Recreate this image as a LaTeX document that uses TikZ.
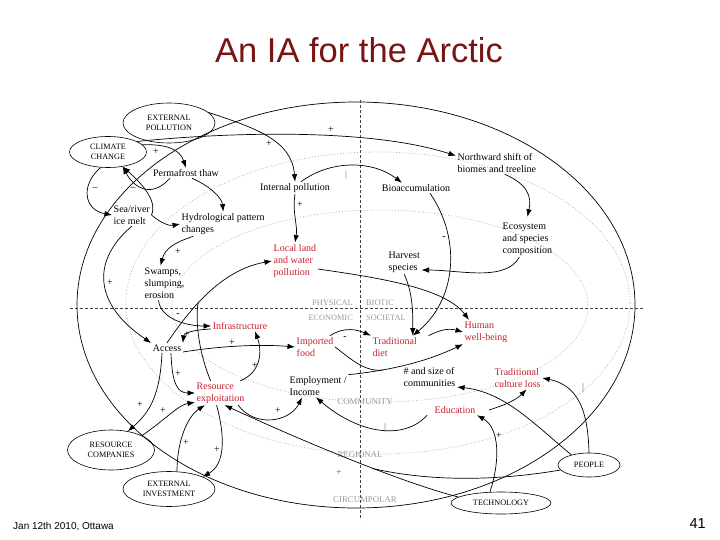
\documentclass[tikz,border=0pt]{standalone}
\usepackage{fontspec}
\setmainfont{Liberation Serif}
\newfontfamily\arialf{Liberation Sans}
\usetikzlibrary{shapes.geometric,arrows.meta}
\definecolor{myred}{RGB}{196,32,45}
\definecolor{titlered}{RGB}{120,20,20}
\begin{document}
\begin{tikzpicture}[x=1pt,y=-1pt,
  lbl/.style={font=\fontsize{10}{12.2}\selectfont, align=left, inner sep=1.5pt},
  rlbl/.style={lbl, text=myred},
  ell/.style={draw, ellipse, inner sep=0pt, line width=0.6pt, font=\fontsize{8.2}{9.5}\selectfont, align=center},
  arr/.style={line width=0.7pt, -{Latex[length=7.5pt,width=5.5pt]}},
  ln/.style={line width=0.7pt},
  sg/.style={font=\fontsize{10}{10}\selectfont, inner sep=0pt},
  quad/.style={font=\fontsize{8.3}{9}\selectfont, text=black!40, inner sep=0pt},
  ring/.style={draw=black!30, dotted, line width=0.8pt}]
\useasboundingbox (0,0) rectangle (720,540);

% title and footer
\node[font=\arialf\fontsize{34.5}{38}\selectfont, text=titlered] (title) at (359,50) {An IA for the Arctic};
\node[font=\arialf\fontsize{10}{11}\selectfont, anchor=base west, inner sep=0pt] (foot) at (13,529) {Jan 12th 2010, Ottawa};
\node[font=\arialf\fontsize{14.5}{16}\selectfont, anchor=base east, inner sep=0pt] (pg) at (706,528) {41};

% rings and axes
\draw[ring] (380,306) ellipse [x radius=208, y radius=96];
\draw[ring] (378,303) ellipse [x radius=252, y radius=151];
\draw[line width=0.7pt] (356,305) ellipse [x radius=279, y radius=203];
\draw[dash pattern=on 3pt off 2pt, line width=0.6pt, black!75] (70,308) -- (643,308);
\draw[dash pattern=on 3pt off 2pt, line width=0.6pt, black!75] (360,100) -- (360,520);

\node[quad, anchor=base east] (qp) at (353,305) {PHYSICAL};
\node[quad, anchor=base west] (qb) at (366,305) {BIOTIC};
\node[quad, anchor=base east] (qe) at (353,320) {ECONOMIC};
\node[quad, anchor=base west] (qs) at (366,320) {SOCIETAL};
\node[quad, font=\fontsize{8.8}{9}\selectfont] (lcom) at (365,402) {COMMUNITY};
\node[quad, font=\fontsize{8.8}{9}\selectfont] (lreg) at (360,455) {REGIONAL};
\node[quad, font=\fontsize{8.8}{9}\selectfont] (lcir) at (365,500) {CIRCUMPOLAR};

% ellipse nodes
\node[ell, minimum width=92pt, minimum height=40pt] (ep) at (169,123) {EXTERNAL\\POLLUTION};
\node[ell, minimum width=77pt, minimum height=31pt] (cc) at (108,152) {CLIMATE\\CHANGE};
\node[ell, minimum width=87pt, minimum height=40pt] (rc) at (111,450) {RESOURCE\\COMPANIES};
\node[ell, minimum width=92pt, minimum height=35pt] (ei) at (169,489) {EXTERNAL\\INVESTMENT};
\node[ell, minimum width=62pt, minimum height=24pt] (pe) at (589,465) {PEOPLE};
\node[ell, minimum width=100pt, minimum height=22pt] (te) at (501,503) {TECHNOLOGY};

% black labels
\node[lbl] (pt) at (186,173) {Permafrost thaw};
\node[lbl] (ip) at (295,188) {Internal pollution};
\node[lbl] (bio) at (416,188) {Bioaccumulation};
\node[lbl, anchor=west] (ns) at (456,163) {Northward shift of\\biomes and treeline};
\node[lbl, anchor=west] (sea) at (112,215) {Sea/river\\ice melt};
\node[lbl, anchor=west] (hyd) at (180,224) {Hydrological pattern\\changes};
\node[lbl, anchor=west] (eco) at (501,239) {Ecosystem\\and species\\composition};
\node[lbl, anchor=west] (sw) at (143,283) {Swamps,\\slumping,\\erosion};
\node[lbl, anchor=west] (hs) at (387,262) {Harvest\\species};
\node[lbl] (acc) at (167,348) {Access};
\node[lbl, anchor=west] (emp) at (288,386) {Employment /\\Income};
\node[lbl, anchor=west] (num) at (402,377) {\# and size of\\communities};
% red labels
\node[rlbl, anchor=west] (ll) at (272,261) {Local land\\and water\\pollution};
\node[rlbl] (inf) at (240,326) {Infrastructure};
\node[rlbl, anchor=west] (imp) at (295,347) {Imported\\food};
\node[rlbl, anchor=west] (td) at (371,347) {Traditional\\diet};
\node[rlbl, anchor=west] (hw) at (463,332) {Human\\well-being};
\node[rlbl, anchor=west] (tcl) at (493,378) {Traditional\\culture loss};
\node[rlbl, anchor=west] (rex) at (195,393) {Resource\\exploitation};
\node[rlbl] (edu) at (455,410) {Education};

% merge points
\coordinate (m1) at (383,370);
\coordinate (m2) at (198,303);
\coordinate (m3) at (372,468.4);

% connectors
\draw[arr] (ep.15) .. controls (255,128) and (292,140) .. (ip.north);
\draw[arr] (cc.20) .. controls (230,132) and (370,128) .. (ns.170);
\draw[arr] (cc.12) .. controls (168,144) and (180,150) .. (pt.north);
\draw[arr] ([xshift=6pt]pt.south) .. controls (210,186) and (222,198) .. (hyd.north);
\draw[arr] ([xshift=-16pt]pt.south) .. controls (150,200) and (133,186) .. (cc.-45);
\draw[arr] (sea.east) .. controls (158,200) and (140,182) .. (cc.-45);
\draw[arr] (cc.-115) .. controls (80,185) and (84,210) .. (sea.west);
\draw[arr] (sea.east) .. controls (162,224) and (170,226) .. (hyd.west);
\draw[arr] (sea.south) .. controls (90,262) and (95,305) .. (acc.north west);
\draw[arr] ([xshift=-30pt]hyd.south) .. controls (176,242) and (165,248) .. ([xshift=-4pt]sw.north);
\draw[arr] ([xshift=-6pt]sw.south) .. controls (160,318) and (185,326) .. (inf.west);
\draw[arr] (ip.south) .. controls (292,212) and (298,226) .. (ll.north);
\draw[arr] ([xshift=6pt]ip.north) .. controls (330,160) and (372,160) .. ([xshift=-14pt]bio.north);
\draw[arr] ([xshift=14pt]bio.south) .. controls (462,240) and (456,300) .. ([xshift=18pt]td.north);
\draw[arr] ([xshift=8pt]ns.south) .. controls (527,184) and (532,196) .. ([yshift=4pt]eco.north);
\draw[arr] ([xshift=-8pt]eco.south) .. controls (505,282) and (460,270) .. (hs.-25);
\draw[arr] (hs.south) .. controls (412,292) and (413,308) .. ([xshift=18pt]td.north);
\draw[arr] ([yshift=-8pt]ll.east) .. controls (380,278) and (445,288) .. ([xshift=6pt]hw.north west);
\draw[arr] ([xshift=10pt]td.north east) .. controls (440,330) and (448,328) .. (hw.west);
\draw[arr] (emp.north east) .. controls (395,370) and (430,360) .. (hw.south west);
\draw[ln] (imp.east) .. controls (352,360) and (365,372) .. (m1);
\draw[arr] ([xshift=-5pt]imp.north east) .. controls (345,326) and (358,330) .. (td.north west);
\draw[arr] ([yshift=-4pt]acc.east) .. controls (220,346) and (260,344) .. (imp.west);
\draw[arr] (acc.north) .. controls (188,312) and (220,270) .. (ll.west);
\draw[ln] ([xshift=-10pt]rex.north) .. controls (200,355) and (195,325) .. (m2);
\draw[arr] ([yshift=-3pt]inf.west) .. controls (192,330) and (184,333) .. (acc.north east);
\draw[arr] ([xshift=-6pt]rex.north east) .. controls (262,372) and (262,350) .. ([xshift=15pt]inf.south);
\draw[arr] ([xshift=4pt]acc.south) .. controls (172,385) and (178,393) .. (rex.west);
\draw[arr] ([xshift=-5pt]acc.south) .. controls (160,395) and (150,412) .. (rc.48);
\draw[arr] (rc.25) .. controls (165,420) and (178,405) .. (rex.200);
\draw[arr] ([xshift=8pt]ei.north) .. controls (177,440) and (188,416) .. ([xshift=10pt]rex.south west);
\draw[arr] ([xshift=-4pt]rex.south) .. controls (226,440) and (224,465) .. (ei.20);
\draw[arr] ([xshift=-8pt]rex.south east) .. controls (255,428) and (290,422) .. ([xshift=14pt]emp.south west);
\draw[arr] ([xshift=-6pt]edu.south west) .. controls (405,440) and (360,435) .. ([xshift=28pt]emp.south west);
\draw[arr] ([xshift=-11pt]te.north) .. controls (500,462) and (500,428) .. (edu.south east);
\draw[arr] ([xshift=12pt]edu.east) .. controls (505,405) and (516,400) .. ([xshift=9pt]tcl.south);
\draw[arr] (pe.north) .. controls (588,418) and (582,386) .. (tcl.east);
\draw[arr] (pe.150) .. controls (535,425) and (505,392) .. (num.-20);
\draw[arr] (te.172) .. controls (400,482) and (300,440) .. ([xshift=4pt]rex.south);
\draw[ln] (pe.190) .. controls (525,476) and (450,486) .. (m3);

% signs
\node[sg] (s1) at (331,130) {+};
\node[sg] (s2) at (269,144) {+};
\node[sg, text=black!50] (s3) at (346,175) {|};
\node[sg] (s4) at (156,152) {+};
\node[sg] (s5) at (95,189) {--};
\node[sg] (s6) at (133,189) {--};
\node[sg] (s7) at (300,205) {+};
\node[sg] (s8) at (444,238) {-};
\node[sg] (s9) at (178,252) {+};
\node[sg] (s10) at (110,283) {+};
\node[sg] (s11) at (178,315) {-};
\node[sg] (s12) at (187,335) {+};
\node[sg] (s13) at (232,343) {+};
\node[sg] (s14) at (345,338) {-};
\node[sg] (s15) at (178,374) {+};
\node[sg] (s16) at (255,366) {+};
\node[sg] (s17) at (140,405) {+};
\node[sg] (s18) at (163,411) {+};
\node[sg] (s19) at (278,411) {+};
\node[sg] (s20) at (186,443) {+};
\node[sg] (s21) at (217,450) {+};
\node[sg, text=black!60] (s22) at (339,473) {+};
\node[sg, text=black!60] (s23) at (385,428) {|};
\node[sg] (s24) at (499,436) {+};
\node[sg, text=black!60] (s25) at (583,388) {|};
\end{tikzpicture}
\end{document}
